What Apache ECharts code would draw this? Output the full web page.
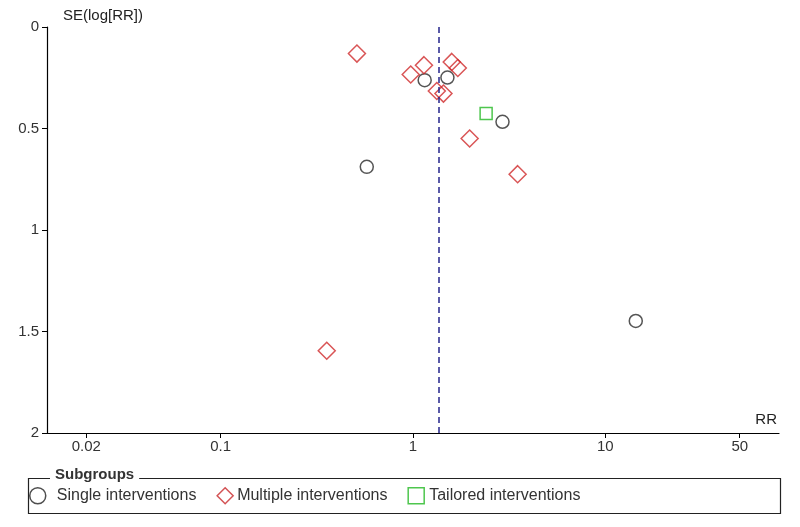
<!DOCTYPE html>
<html>
<head>
<meta charset="utf-8">
<script src="https://cdn.jsdelivr.net/npm/echarts@6/dist/echarts.min.js"></script>
<style>html,body{margin:0;padding:0;background:#fff}#c{width:800px;height:527px}</style>
</head>
<body>
<div id="c"></div>
<script>
// Data
var singleRR = [1.15, 1.51, 2.92, 0.575, 14.4];
var singleSE = [0.262, 0.249, 0.467, 0.689, 1.448];
var multipleRR = [0.511, 1.14, 0.973, 1.59, 1.71, 1.33, 1.44, 1.97, 3.50, 0.356];
var multipleSE = [0.131, 0.188, 0.234, 0.172, 0.202, 0.315, 0.328, 0.549, 0.725, 1.595];
var tailoredRR = [2.40];
var tailoredSE = [0.426];
var pooledRR = 1.36;
var xTicks = [0.02, 0.1, 1, 10, 50];
var yTicks = [0, 0.5, 1, 1.5, 2];
var seriesNames = ['Single interventions', 'Multiple interventions', 'Tailored interventions'];

function pairs(xs, ys) { return xs.map(function (x, i) { return [x, ys[i]]; }); }

var FONT = 'Liberation Sans';
var chart = echarts.init(document.getElementById('c'), null, { renderer: 'canvas' });
chart.setOption({
  animation: false,
  backgroundColor: '#fff',
  grid: { left: 47, right: 21, top: 27, bottom: 94, containLabel: false, outerBoundsMode: 'none' },
  xAxis: {
    type: 'log', min: 0.0125, max: 80, logBase: 10, position: 'bottom',
    name: 'RR', nameLocation: 'end', nameGap: 0,
    nameTextStyle: { color: '#222', fontFamily: FONT, fontSize: 15, align: 'right', verticalAlign: 'bottom', padding: [0, 2, 6, 0] },
    axisLine: { onZero: false, lineStyle: { color: '#000', width: 1.2 } },
    axisTick: { show: true, length: 5, inside: false, customValues: xTicks, lineStyle: { color: '#000' } },
    axisLabel: { customValues: xTicks, color: '#333', fontFamily: FONT, fontSize: 15, margin: 6,
      formatter: function (v) { return String(+(+v).toPrecision(3)); } },
    splitLine: { show: false }, minorTick: { show: false }
  },
  yAxis: {
    type: 'value', inverse: true, min: 0, max: 2, interval: 0.5,
    name: 'SE(log[RR])', nameLocation: 'start', nameGap: 4,
    nameTextStyle: { color: '#222', fontFamily: FONT, fontSize: 15, align: 'left', verticalAlign: 'bottom', padding: [0, 0, 0, 16] },
    axisLine: { show: true, onZero: false, lineStyle: { color: '#000', width: 1.2 } },
    axisTick: { show: true, length: 5, customValues: yTicks, lineStyle: { color: '#000' } },
    axisLabel: { customValues: yTicks, color: '#333', fontFamily: FONT, fontSize: 15, margin: 8,
      formatter: function (v) { return String(v); } },
    splitLine: { show: false }
  },
  legend: {
    show: true, left: 24, top: 482, orient: 'horizontal',
    itemWidth: 16, itemHeight: 16, itemGap: 20,
    textStyle: { color: '#333', fontFamily: FONT, fontSize: 16 },
    data: [
      { name: seriesNames[0], icon: 'circle', textStyle: { padding: [0, 0, 0, 6] },
        itemStyle: { color: '#fff', borderColor: '#222', borderWidth: 1.5 } },
      { name: seriesNames[1], icon: 'diamond', textStyle: { padding: [0, 0, 0, -1] },
        itemStyle: { color: '#fff', borderColor: '#c8282a', borderWidth: 1.5 } },
      { name: seriesNames[2], icon: 'rect', textStyle: { padding: [0, 0, 0, 0] },
        itemStyle: { color: '#fff', borderColor: '#22b822', borderWidth: 1.5 } }
    ]
  },
  graphic: [
    { type: 'rect', left: 26, top: 476, shape: { width: 752, height: 35 }, style: { fill: 'none', stroke: '#222', lineWidth: 1.2 }, z: 0 },
    { type: 'text', left: 50, top: 467, style: { text: 'Subgroups', fill: '#333', font: 'bold 15px "Liberation Sans"', backgroundColor: '#fff', padding: [0, 5, 0, 5] }, z: 5 }
  ],
  series: [
    { name: seriesNames[0], type: 'scatter', symbol: 'circle', symbolSize: 13,
      itemStyle: { color: 'rgba(255,255,255,0)', borderColor: '#2a2a2a', borderWidth: 1.5 },
      data: pairs(singleRR, singleSE), z: 3,
      markLine: { silent: true, symbol: 'none', label: { show: false },
        lineStyle: { color: '#24248c', type: [6, 4], width: 1.5 },
        data: [{ xAxis: pooledRR }] } },
    { name: seriesNames[1], type: 'scatter', symbol: 'diamond', symbolSize: [17, 17],
      itemStyle: { color: 'rgba(255,255,255,0)', borderColor: '#d02a2c', borderWidth: 1.5 },
      data: pairs(multipleRR, multipleSE), z: 4 },
    { name: seriesNames[2], type: 'scatter', symbol: 'rect', symbolSize: 12,
      itemStyle: { color: 'rgba(255,255,255,0)', borderColor: '#22b822', borderWidth: 1.5 },
      data: pairs(tailoredRR, tailoredSE), z: 4 }
  ]
});
</script>
</body>
</html>
